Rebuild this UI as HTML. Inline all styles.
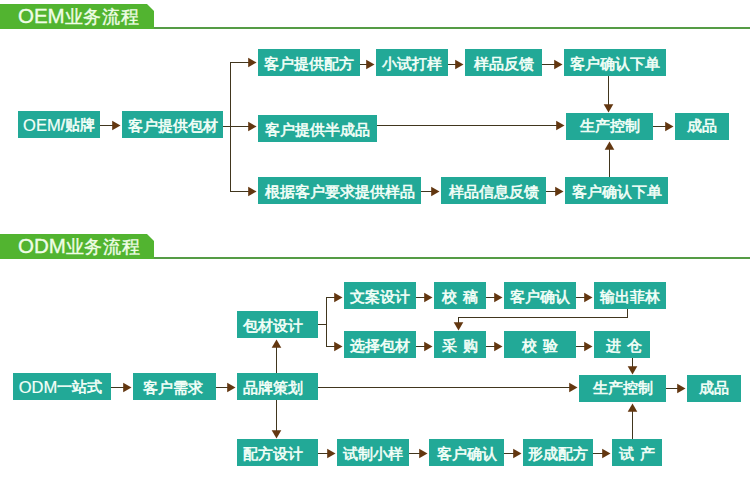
<!DOCTYPE html>
<html><head><meta charset="utf-8">
<style>
html,body{margin:0;padding:0;background:#fff;}
body{width:750px;height:480px;position:relative;overflow:hidden;font-family:"Liberation Sans",sans-serif;}
.tab{position:absolute;left:0;}
.tt{position:absolute;left:18px;color:#effde6;font-size:18px;line-height:25px;white-space:nowrap;-webkit-text-stroke:0.35px #effde6;margin-top:-1px;}
.tt i{font-style:normal;font-weight:normal;font-size:20.5px;}
.tt b{font-weight:normal;letter-spacing:0.6px;}
.b{position:absolute;background:#22a997;color:#f4fff8;font-size:15px;display:flex;align-items:center;justify-content:center;white-space:nowrap;font-weight:normal;-webkit-text-stroke:0.6px #f4fff8;box-sizing:border-box;padding-top:4px;}
.b i{font-style:normal;font-weight:normal;font-size:16.5px;-webkit-text-stroke:0.2px #f4fff8;}
svg.ln{position:absolute;left:0;top:0;}
</style></head><body>
<svg class="tab" style="top:4px" width="750" height="26" viewBox="0 0 750 26"><polygon fill="#52b430" points="0,0 147,0 154,7 154,25 0,25"/><rect x="154" y="23" width="596" height="2" fill="#559c45"/></svg>
<div class="tt" style="top:4px"><i>OEM</i><b>业务流程</b></div>
<svg class="tab" style="top:234px" width="750" height="26" viewBox="0 0 750 26"><polygon fill="#52b430" points="0,0 147,0 154,7 154,25 0,25"/><rect x="154" y="23" width="596" height="2" fill="#559c45"/></svg>
<div class="tt" style="top:234px"><i>ODM</i><b>业务流程</b></div>
<svg class="ln" width="750" height="480" viewBox="0 0 750 480">
<g fill="#41361e"><rect x="100" y="125" width="16" height="1"/><rect x="223" y="126" width="8" height="1"/><rect x="230" y="126" width="22" height="1"/><rect x="230" y="62" width="1" height="130"/><rect x="230" y="62" width="22" height="1"/><rect x="230" y="191" width="22" height="1"/><rect x="360" y="64" width="10" height="1"/><rect x="448" y="64" width="11" height="1"/><rect x="542" y="64" width="16" height="1"/><rect x="608" y="76" width="1" height="33"/><rect x="377" y="125" width="183" height="1"/><rect x="653" y="126" width="16" height="1"/><rect x="421" y="191" width="14" height="1"/><rect x="546" y="191" width="13" height="1"/><rect x="609" y="146" width="1" height="32"/><rect x="111" y="387" width="16" height="1"/><rect x="216" y="387" width="15" height="1"/><rect x="276" y="343" width="1" height="30"/><rect x="276" y="399" width="1" height="36"/><rect x="318" y="387" width="255" height="1"/><rect x="318" y="324" width="9" height="1"/><rect x="326" y="297" width="1" height="50"/><rect x="326" y="297" width="12" height="1"/><rect x="326" y="346" width="12" height="1"/><rect x="416" y="297" width="12" height="1"/><rect x="486" y="297" width="12" height="1"/><rect x="576" y="297" width="12" height="1"/><rect x="627" y="309" width="1" height="9"/><rect x="458" y="317" width="170" height="1"/><rect x="458" y="317" width="1" height="10"/><rect x="416" y="346" width="12" height="1"/><rect x="486" y="346" width="12" height="1"/><rect x="576" y="346" width="12" height="1"/><rect x="632" y="358" width="1" height="13"/><rect x="666" y="388" width="15" height="1"/><rect x="318" y="453" width="13" height="1"/><rect x="409" y="453" width="14" height="1"/><rect x="504" y="453" width="13" height="1"/><rect x="593" y="453" width="13" height="1"/><rect x="632" y="407" width="1" height="33"/></g>
<g fill="#633710"><polygon points="112.2,120.7 120.5,125.5 112.2,130.3"/><polygon points="248.2,121.7 256.5,126.5 248.2,131.3"/><polygon points="248.2,57.7 256.5,62.5 248.2,67.3"/><polygon points="248.2,186.7 256.5,191.5 248.2,196.3"/><polygon points="366.2,59.7 374.5,64.5 366.2,69.3"/><polygon points="455.2,59.7 463.5,64.5 455.2,69.3"/><polygon points="554.2,59.7 562.5,64.5 554.2,69.3"/><polygon points="603.7,104.2 608.5,112.5 613.3,104.2"/><polygon points="556.2,120.7 564.5,125.5 556.2,130.3"/><polygon points="665.2,121.7 673.5,126.5 665.2,131.3"/><polygon points="431.2,186.7 439.5,191.5 431.2,196.3"/><polygon points="555.2,186.7 563.5,191.5 555.2,196.3"/><polygon points="604.7,149.8 609.5,141.5 614.3,149.8"/><polygon points="123.2,382.7 131.5,387.5 123.2,392.3"/><polygon points="227.2,382.7 235.5,387.5 227.2,392.3"/><polygon points="271.7,347.8 276.5,339.5 281.3,347.8"/><polygon points="271.7,430.2 276.5,438.5 281.3,430.2"/><polygon points="569.2,382.7 577.5,387.5 569.2,392.3"/><polygon points="334.2,292.7 342.5,297.5 334.2,302.3"/><polygon points="334.2,341.7 342.5,346.5 334.2,351.3"/><polygon points="424.2,292.7 432.5,297.5 424.2,302.3"/><polygon points="494.2,292.7 502.5,297.5 494.2,302.3"/><polygon points="584.2,292.7 592.5,297.5 584.2,302.3"/><polygon points="453.7,322.2 458.5,330.5 463.3,322.2"/><polygon points="424.2,341.7 432.5,346.5 424.2,351.3"/><polygon points="494.2,341.7 502.5,346.5 494.2,351.3"/><polygon points="584.2,341.7 592.5,346.5 584.2,351.3"/><polygon points="627.7,366.2 632.5,374.5 637.3,366.2"/><polygon points="677.2,383.7 685.5,388.5 677.2,393.3"/><polygon points="327.2,448.7 335.5,453.5 327.2,458.3"/><polygon points="419.2,448.7 427.5,453.5 419.2,458.3"/><polygon points="513.2,448.7 521.5,453.5 513.2,458.3"/><polygon points="602.2,448.7 610.5,453.5 602.2,458.3"/><polygon points="627.7,411.8 632.5,403.5 637.3,411.8"/></g>
</svg>
<div class="b" style="left:18px;top:111px;width:82px;height:27px;padding-top:2px;"><i>OEM</i>/贴牌</div>
<div class="b" style="left:122px;top:111px;width:101px;height:27px">客户提供包材</div>
<div class="b" style="left:258px;top:49px;width:102px;height:27px">客户提供配方</div>
<div class="b" style="left:376px;top:49px;width:72px;height:27px">小试打样</div>
<div class="b" style="left:465px;top:49px;width:77px;height:27px">样品反馈</div>
<div class="b" style="left:564px;top:49px;width:102px;height:27px">客户确认下单</div>
<div class="b" style="left:258px;top:115px;width:119px;height:27px">客户提供半成品</div>
<div class="b" style="left:566px;top:113px;width:87px;height:27px;padding-top:0px">生产控制</div>
<div class="b" style="left:675px;top:113px;width:54px;height:27px;padding-top:0px">成品</div>
<div class="b" style="left:258px;top:177px;width:163px;height:27px">根据客户要求提供样品</div>
<div class="b" style="left:441px;top:177px;width:105px;height:27px">样品信息反馈</div>
<div class="b" style="left:565px;top:177px;width:103px;height:27px">客户确认下单</div>
<div class="b" style="left:13px;top:373px;width:98px;height:27px;padding-top:2px;padding-right:3px"><i>ODM</i>一站式</div>
<div class="b" style="left:133px;top:373px;width:83px;height:27px;padding-right:4px">客户需求</div>
<div class="b" style="left:237px;top:373px;width:81px;height:27px;padding-right:10px">品牌策划</div>
<div class="b" style="left:237px;top:311px;width:81px;height:27px;padding-right:10px">包材设计</div>
<div class="b" style="left:344px;top:282px;width:72px;height:27px">文案设计</div>
<div class="b" style="left:344px;top:331px;width:72px;height:27px">选择包材</div>
<div class="b" style="left:434px;top:282px;width:52px;height:27px">校<span style="display:inline-block;width:6px"></span>稿</div>
<div class="b" style="left:434px;top:331px;width:52px;height:27px">采<span style="display:inline-block;width:6px"></span>购</div>
<div class="b" style="left:504px;top:282px;width:72px;height:27px">客户确认</div>
<div class="b" style="left:504px;top:331px;width:72px;height:27px">校<span style="display:inline-block;width:6px"></span>验</div>
<div class="b" style="left:594px;top:282px;width:72px;height:27px">输出菲林</div>
<div class="b" style="left:594px;top:331px;width:56px;height:27px;padding-left:3px">进<span style="display:inline-block;width:6px"></span>仓</div>
<div class="b" style="left:579px;top:375px;width:87px;height:27px;padding-top:0px">生产控制</div>
<div class="b" style="left:687px;top:375px;width:54px;height:27px;padding-top:0px">成品</div>
<div class="b" style="left:237px;top:439px;width:81px;height:27px;padding-right:10px">配方设计</div>
<div class="b" style="left:337px;top:439px;width:72px;height:27px">试制小样</div>
<div class="b" style="left:429px;top:439px;width:75px;height:27px">客户确认</div>
<div class="b" style="left:523px;top:439px;width:70px;height:27px">形成配方</div>
<div class="b" style="left:612px;top:439px;width:50px;height:27px">试<span style="display:inline-block;width:6px"></span>产</div>
</body></html>
